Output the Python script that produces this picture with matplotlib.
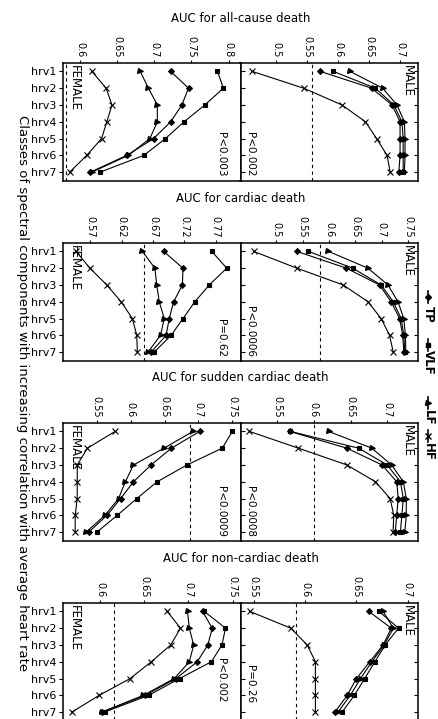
import numpy as np
import matplotlib.pyplot as plt
from matplotlib.lines import Line2D

classes = ['hrv1', 'hrv2', 'hrv3', 'hrv4', 'hrv5', 'hrv6', 'hrv7']
causes = ['all-cause', 'cardiac', 'sudden cardiac', 'non-cardiac']

# AUC per class, one list per cause of death (all-cause, cardiac, sudden, non-cardiac)
tp_female = [[0.722, 0.746, 0.737, 0.722, 0.699, 0.663, 0.614],
             [0.687, 0.718, 0.717, 0.703, 0.696, 0.691, 0.667],
             [0.702, 0.660, 0.630, 0.604, 0.585, 0.565, 0.538],
             [0.716, 0.727, 0.722, 0.710, 0.686, 0.651, 0.602]]
vlf_female = [[0.785, 0.793, 0.768, 0.740, 0.715, 0.686, 0.627],
              [0.764, 0.788, 0.760, 0.737, 0.718, 0.699, 0.672],
              [0.750, 0.735, 0.683, 0.639, 0.609, 0.580, 0.550],
              [0.718, 0.742, 0.738, 0.726, 0.690, 0.655, 0.605]]
lf_female = [[0.681, 0.692, 0.704, 0.704, 0.694, 0.665, 0.616],
             [0.653, 0.673, 0.676, 0.680, 0.688, 0.682, 0.662],
             [0.692, 0.649, 0.604, 0.592, 0.582, 0.562, 0.534],
             [0.699, 0.701, 0.706, 0.701, 0.684, 0.649, 0.602]]
hf_female = [[0.616, 0.635, 0.643, 0.636, 0.629, 0.609, 0.586],
             [0.547, 0.569, 0.596, 0.619, 0.637, 0.644, 0.645],
             [0.577, 0.536, 0.521, 0.521, 0.521, 0.518, 0.518],
             [0.676, 0.691, 0.680, 0.658, 0.634, 0.599, 0.568]]

tp_male = [[0.571, 0.654, 0.687, 0.700, 0.700, 0.700, 0.698],
           [0.539, 0.633, 0.696, 0.718, 0.734, 0.740, 0.742],
           [0.567, 0.645, 0.693, 0.713, 0.715, 0.713, 0.711],
           [0.662, 0.684, 0.676, 0.663, 0.650, 0.641, 0.629]]
vlf_male = [[0.592, 0.660, 0.690, 0.703, 0.705, 0.705, 0.705],
            [0.561, 0.645, 0.699, 0.722, 0.737, 0.742, 0.744],
            [0.568, 0.661, 0.700, 0.718, 0.722, 0.720, 0.718],
            [0.672, 0.691, 0.678, 0.668, 0.658, 0.648, 0.636]]
lf_male = [[0.619, 0.672, 0.695, 0.707, 0.708, 0.708, 0.707],
           [0.599, 0.674, 0.712, 0.731, 0.742, 0.745, 0.746],
           [0.620, 0.679, 0.706, 0.722, 0.726, 0.726, 0.724],
           [0.676, 0.686, 0.677, 0.665, 0.654, 0.644, 0.632]]
hf_male = [[0.461, 0.544, 0.606, 0.644, 0.662, 0.679, 0.684],
           [0.457, 0.539, 0.627, 0.674, 0.699, 0.715, 0.722],
           [0.512, 0.579, 0.645, 0.684, 0.704, 0.709, 0.708],
           [0.546, 0.586, 0.602, 0.610, 0.610, 0.610, 0.610]]

# AUC of average heart rate alone (dashed reference)
ref_female = [0.581, 0.656, 0.688, 0.616]
ref_male = [0.558, 0.582, 0.600, 0.591]

p_female = ['P<0.003', 'P=0.62', 'P<0.0009', 'P<0.002']
p_male = ['P<0.002', 'P<0.0006', 'P<0.0008', 'P=0.26']

ticks_female = [[0.6, 0.65, 0.7, 0.75, 0.8],
                [0.57, 0.62, 0.67, 0.72, 0.77],
                [0.55, 0.6, 0.65, 0.7, 0.75],
                [0.6, 0.65, 0.7, 0.75]]
ticks_male = [[0.5, 0.55, 0.6, 0.65, 0.7],
              [0.5, 0.55, 0.6, 0.65, 0.7, 0.75],
              [0.55, 0.6, 0.65, 0.7],
              [0.55, 0.6, 0.65, 0.7]]
xlim_female = [(0.577, 0.816), (0.526, 0.81), (0.50, 0.762), (0.558, 0.759)]
xlim_male = [(0.442, 0.729), (0.432, 0.769), (0.50, 0.742), (0.537, 0.71)]

W, H = 438, 719


def fx(px):
    return px / W


def fy(py):
    return 1 - py / H


styles = [('TP', 'D', 3.0), ('VLF', 's', 3.0), ('LF', '>', 3.6), ('HF', 'x', 5)]
# p-value text sits a bit higher in the last row so it stays on the page
p_bottom = [0.03, 0.03, 0.03, 0.15]

fig = plt.figure(figsize=(W / 100, H / 100), dpi=100)
y = np.arange(1, 8)

for i, cause in enumerate(causes):
    top = 63 + i * 180
    fig.text(fx(240.5), fy(top - 45), 'AUC for ' + cause + ' death',
             ha='center', va='center', fontsize=8.5)

    panels = [('FEMALE', [tp_female, vlf_female, lf_female, hf_female], ref_female,
               p_female, ticks_female, xlim_female),
              ('MALE', [tp_male, vlf_male, lf_male, hf_male], ref_male,
               p_male, ticks_male, xlim_male)]
    for j, (sex, series, ref, pvals, ticks, xlim) in enumerate(panels):
        left = 63 + j * 177.5
        ax = fig.add_axes([fx(left), fy(top + 117.5), 177.5 / W, 117.5 / H])

        for (name, m, ms), s in zip(styles, series):
            ax.plot(s[i], y, color='black', lw=0.8, marker=m, ms=ms,
                    mew=0.8, mfc='black', mec='black')
        ax.axvline(ref[i], color='black', lw=0.8, ls=(0, (3, 3)))

        ax.set_xlim(xlim[i])
        ax.set_ylim(7.5, 0.5)
        ax.xaxis.tick_top()
        ax.set_xticks(ticks[i])
        ax.set_xticklabels([f'{t:g}' for t in ticks[i]], rotation=-90, fontsize=7)
        ax.tick_params(axis='x', direction='out', length=2.5, pad=1.5, width=0.8)
        ax.set_yticks(y)
        if j == 0:
            ax.set_yticklabels(classes, fontsize=8)
            ax.tick_params(axis='y', direction='out', length=3, pad=2, width=0.8)
            ax.text(0.025, 0.985, sex, transform=ax.transAxes, rotation=-90,
                    ha='left', va='top', fontsize=8.5)
            ax.text(0.92, p_bottom[i], pvals[i], transform=ax.transAxes,
                    rotation=-90, ha='right', va='bottom', fontsize=7.5)
        else:
            ax.set_yticklabels([])
            ax.tick_params(axis='y', direction='in', length=3, left=True,
                           right=True, width=0.8)
            ax.text(0.975, 0.985, sex, transform=ax.transAxes, rotation=-90,
                    ha='right', va='top', fontsize=8.5)
            ax.text(0.025, p_bottom[i], pvals[i], transform=ax.transAxes,
                    rotation=-90, ha='left', va='bottom', fontsize=7.5)
        for sp in ax.spines.values():
            sp.set_linewidth(1.1)

fig.text(fx(22), fy(393), 'Classes of spectral components with increasing '
         'correlation with average heart rate', rotation=-90,
         ha='center', va='center', fontsize=9.5)

# legend running down the right margin
legend_pos = [(297, 314), (345, 362), (403, 418), (436, 452)]
for (name, m, ms), (yh, yt) in zip(styles, legend_pos):
    fig.add_artist(Line2D([fx(428)] * 3, [fy(yh - 6), fy(yh), fy(yh + 6)],
                          transform=fig.transFigure, color='black', lw=1.2,
                          marker=m, ms=ms, markevery=[1], mfc='black', mec='black',
                          mew=1.0))
    fig.text(fx(428), fy(yt), name, rotation=-90, ha='center', va='center',
             fontsize=8.5, fontweight='bold')

fig.savefig('out.png', dpi=100)
